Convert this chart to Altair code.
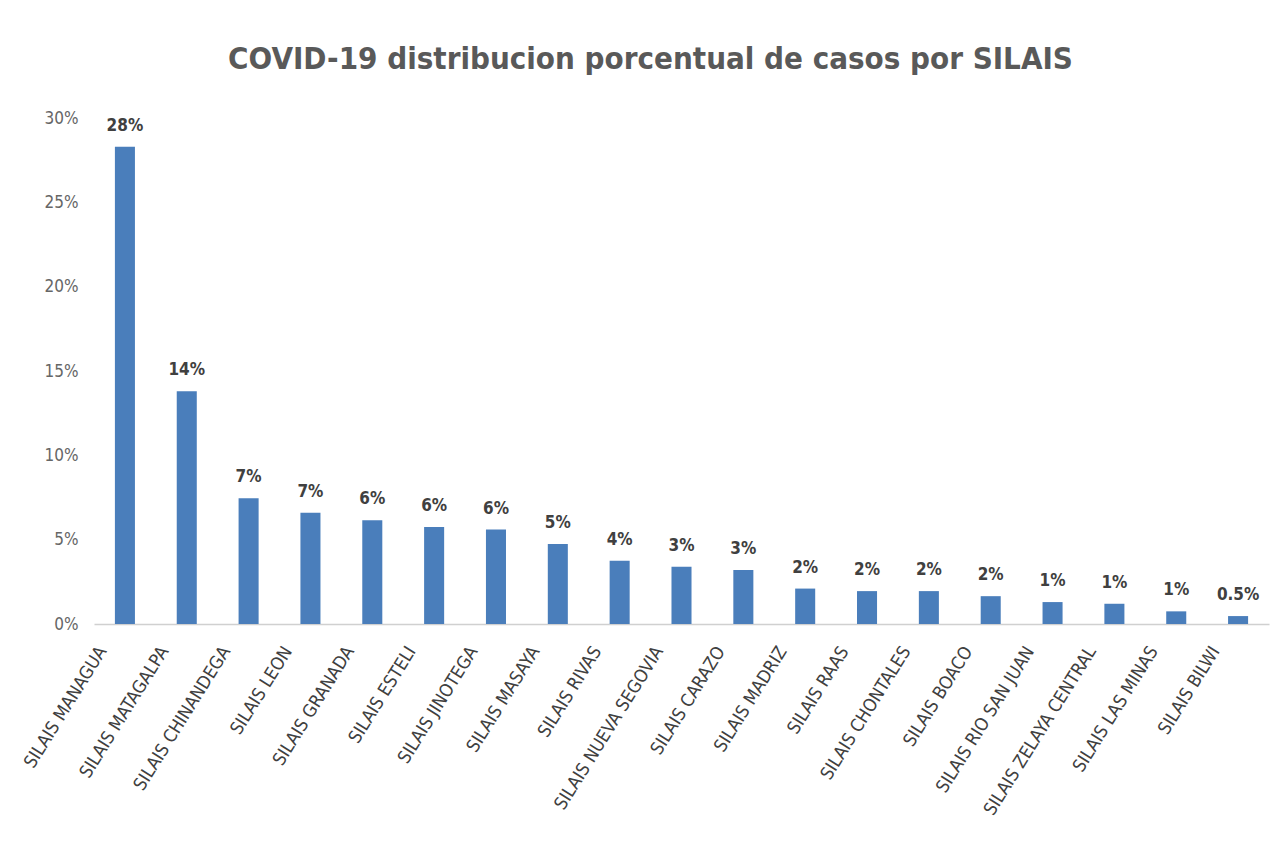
import altair as alt
import pandas as pd

categories = [
    "SILAIS MANAGUA", "SILAIS MATAGALPA", "SILAIS CHINANDEGA", "SILAIS LEON",
    "SILAIS GRANADA", "SILAIS ESTELI", "SILAIS JINOTEGA", "SILAIS MASAYA",
    "SILAIS RIVAS", "SILAIS NUEVA SEGOVIA", "SILAIS CARAZO", "SILAIS MADRIZ",
    "SILAIS RAAS", "SILAIS CHONTALES", "SILAIS BOACO", "SILAIS RIO SAN JUAN",
    "SILAIS ZELAYA CENTRAL", "SILAIS LAS MINAS", "SILAIS BILWI",
]
values = [28.3, 13.8, 7.45, 6.6, 6.15, 5.75, 5.6, 4.75, 3.75, 3.4, 3.2,
          2.1, 1.95, 1.95, 1.65, 1.3, 1.2, 0.75, 0.47]
labels = ["28%", "14%", "7%", "7%", "6%", "6%", "6%", "5%", "4%", "3%", "3%",
          "2%", "2%", "2%", "2%", "1%", "1%", "1%", "0.5%"]
y_ticks = [0, 0.05, 0.10, 0.15, 0.20, 0.25, 0.30]

df = pd.DataFrame({
    "silais": categories,
    "pct": [v / 100 for v in values],
    "label": labels,
})

FONT = "DejaVu Sans Condensed, Liberation Sans Narrow, sans-serif"

x = alt.X(
    "silais:N", sort=None, title=None,
    scale=alt.Scale(paddingInner=0.676, paddingOuter=0.338),
    axis=alt.Axis(
        labelAngle=-58, labelFont=FONT, labelFontSize=18, labelColor="#404040",
        ticks=False, domainColor="#d0d0d0", domainWidth=1.5, labelPadding=24,
        labelOffset=-22, labelLimit=400,
    ),
)
y = alt.Y(
    "pct:Q", title=None,
    scale=alt.Scale(domain=[0, 0.30]),
    axis=alt.Axis(
        values=y_ticks, format=".0%", grid=False, domain=False, ticks=False,
        labelFont=FONT, labelFontSize=17, labelColor="#666666", labelPadding=16,
    ),
)

bars = alt.Chart(df).mark_bar(color="#4A7EBB").encode(x=x, y=y)
text = alt.Chart(df).mark_text(
    font=FONT, fontSize=17, fontWeight="bold", color="#404040",
    baseline="alphabetic", dy=-16,
).encode(x=x, y=y, text="label:N")

chart = (bars + text).properties(
    width=1175, height=506,
    title=alt.Title(
        "COVID-19 distribucion porcentual de casos por SILAIS",
        font=FONT, fontSize=31, fontWeight="bold", color="#595959",
        anchor="middle", dx=-31, offset=33,
    ),
    autosize=alt.AutoSizeParams(type="none"),
    padding={"left": 86, "top": 110, "right": 7, "bottom": 214},
).configure(
    background="white",
    view=alt.ViewConfig(strokeWidth=0, stroke="transparent"),
)

chart.save("out.html", embed_options={"renderer": "svg", "actions": False})
